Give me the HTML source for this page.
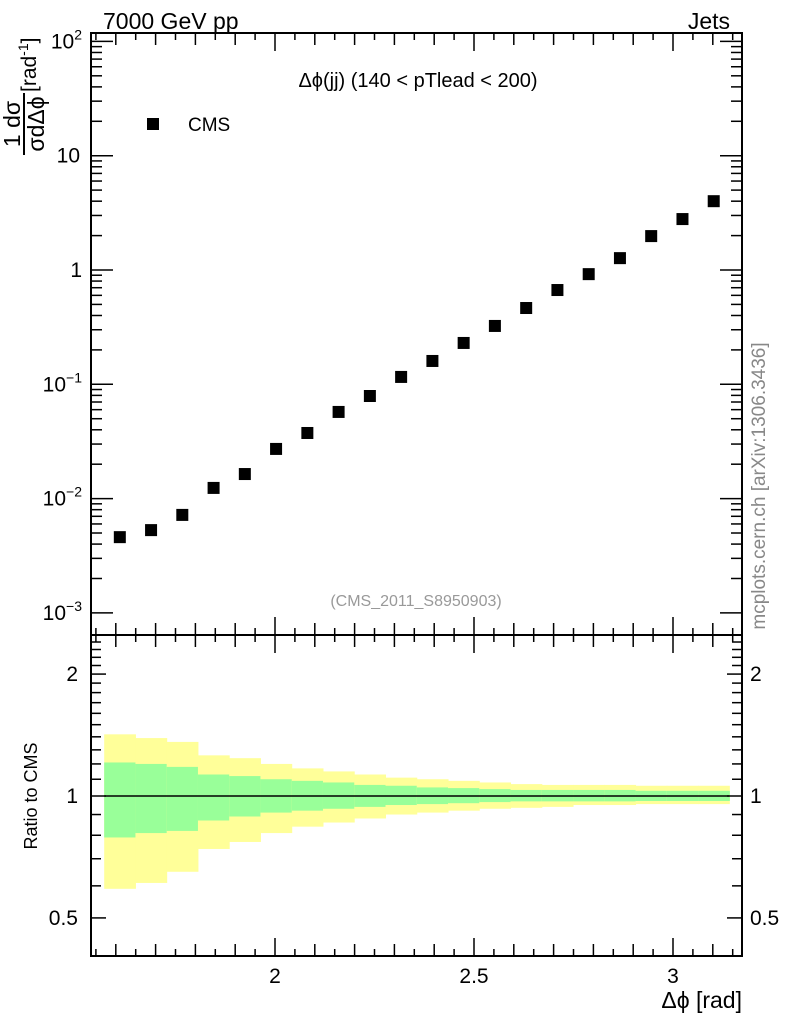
<!DOCTYPE html>
<html><head><meta charset="utf-8"><style>
body{margin:0;background:#fff;}
svg{display:block;font-family:"Liberation Sans",sans-serif;}
</style></head><body>
<svg id="c" width="786" height="1024" viewBox="0 0 786 1024">
<g id="bands"></g>
<g id="axes"></g>
<g id="marks"></g>
<text x="103" y="29" font-size="23">7000 GeV pp</text>
<text x="730" y="29" font-size="23" text-anchor="end">Jets</text>
<text x="418" y="87" font-size="20" text-anchor="middle">Δϕ(jj) (140 &lt; pTlead &lt;  200)</text>
<rect x="147" y="118" width="12" height="12" fill="#000"/>
<text x="188" y="131" font-size="19">CMS</text>
<text x="416" y="606" font-size="16" fill="#999" text-anchor="middle">(CMS_2011_S8950903)</text>
<text transform="translate(765,486) rotate(-90)" font-size="19" fill="#888" text-anchor="middle">mcplots.cern.ch [arXiv:1306.3436]</text>
<text transform="translate(37,796) rotate(-90)" font-size="18" text-anchor="middle">Ratio to CMS</text>
<text x="742" y="1008" font-size="23" text-anchor="end">Δϕ [rad]</text>
<g>
<text transform="translate(20,124) rotate(-90)" font-size="23" text-anchor="middle">1 dσ</text>
<line x1="24" y1="155" x2="24" y2="93" stroke="#000" stroke-width="2"/>
<text transform="translate(44,124) rotate(-90)" font-size="23" text-anchor="middle">σdΔϕ</text>
<text transform="translate(36,92) rotate(-90)" font-size="21">[rad<tspan font-size="14" dy="-8">-1</tspan><tspan dy="8">]</tspan></text>
</g>
</svg>
<script>
const xs=[1.6101,1.6886,1.7671,1.8457,1.9242,2.0027,2.0813,2.1598,2.2384,2.3169,2.3955,2.4740,2.5525,2.6311,2.7096,2.7882,2.8667,2.9452,3.0238,3.1023];
const values=[0.0046,0.0053,0.0072,0.0124,0.0164,0.0272,0.0375,0.0573,0.079,0.116,0.160,0.230,0.324,0.465,0.668,0.92,1.27,1.98,2.79,4.0];
const yellowHi=[1.42,1.39,1.36,1.26,1.24,1.20,1.17,1.15,1.13,1.11,1.10,1.09,1.08,1.07,1.065,1.065,1.065,1.06,1.06,1.06];
const greenHi=[1.21,1.20,1.18,1.13,1.12,1.10,1.09,1.08,1.065,1.06,1.05,1.046,1.04,1.035,1.035,1.035,1.035,1.03,1.03,1.03];
const greenLo=[0.79,0.81,0.82,0.87,0.89,0.91,0.92,0.93,0.94,0.95,0.955,0.96,0.966,0.97,0.97,0.97,0.97,0.972,0.972,0.972];
const yellowLo=[0.59,0.61,0.65,0.74,0.77,0.81,0.84,0.86,0.88,0.90,0.91,0.92,0.93,0.935,0.94,0.95,0.95,0.955,0.955,0.955];
const binW=Math.PI/40;
const NS='http://www.w3.org/2000/svg';
const L=91,R=742,T=33,M=635,B=956;
const X=v=>275+(v-2)*398;
const Y=v=>270-Math.log10(v)*114.3;
const YR=v=>796-Math.log10(v)*405;
function mk(tag,attrs,parent){const e=document.createElementNS(NS,tag);for(const k in attrs)e.setAttribute(k,attrs[k]);parent.appendChild(e);return e;}
const bands=document.getElementById('bands'),axes=document.getElementById('axes'),marks=document.getElementById('marks');
xs.forEach((x,i)=>{
  const x0=X(x-binW/2),x1=X(x+binW/2);
  const a=mk('rect',{x:x0,y:YR(yellowHi[i]),width:x1-x0+0.5,height:YR(yellowLo[i])-YR(yellowHi[i]),fill:'#ffff99'},bands);
  
  
  const g=mk('rect',{x:x0,y:YR(greenHi[i]),width:x1-x0+0.5,height:YR(greenLo[i])-YR(greenHi[i]),fill:'#99ff99'},bands);
  
  
  const p=mk('rect',{x:X(x)-6,y:Y(values[i])-6,width:12,height:12,fill:'#000'},marks);
  
  
});
mk('line',{x1:X(xs[0]-binW/2),x2:X(xs[19]+binW/2),y1:YR(1),y2:YR(1),stroke:'#000','stroke-width':1.5},bands);
const sw={stroke:'#000','stroke-width':2};
mk('rect',{x:L,y:T,width:R-L,height:M-T,fill:'none',...sw},axes);
mk('rect',{x:L,y:M,width:R-L,height:B-M,fill:'none',...sw},axes);
const ln=(x1,y1,x2,y2)=>mk('line',{x1,y1,x2,y2,stroke:'#000','stroke-width':1.5},axes);
const txt=(x,y,s,anchor,size)=>{const t=mk('text',{x,y,'font-size':size||21,'text-anchor':anchor||'middle'},axes);t.textContent=s;return t;};
for(let k=0;k<=40;k++){const v=1.5+k*0.05;const x=X(v);if(x<L+1||x>R-1)continue;
  const maj=Math.abs(v*2-Math.round(v*2))<1e-6, med=Math.abs(v*10-Math.round(v*10))<1e-6;
  const len=maj?18:med?12:7;
  [T,M,B].forEach(y=>{if(y!==T)ln(x,y,x,y-len);if(y!==B)ln(x,y,x,y+len);});
  if(maj&&v>1.9)txt(x,983,String(v));}
for(let d=-3;d<=2;d++){for(let m=1;m<=9;m++){const v=m*Math.pow(10,d);const y=Y(v);if(y<T||y>M)continue;
  const len=m===1?22:11;ln(L,y,L+len,y);ln(R,y,R-len,y);}}
[[2,'10','2'],[1,'10',''],[0,'1',''],[-1,'10','−1'],[-2,'10','−2'],[-3,'10','−3']].forEach(([d,b,e])=>{
  const t=txt(d===1?80:e?72:82,Y(Math.pow(10,d))+7,b,'end');
  if(e){const s=mk('tspan',{'font-size':14,dy:-9},t);s.textContent=e;t.setAttribute('x',82);t.setAttribute('text-anchor','end');}});
for(let k=4;k<=25;k++){const v=k/10;const y=YR(v);if(y<M+1||y>B-1)continue;
  const maj=(k===5||k===10||k===20);const len=maj?15:10;ln(L,y,L+len,y);ln(R,y,R-len,y);}
[[0.5,'0.5'],[1,'1'],[2,'2']].forEach(([v,s])=>{txt(78,YR(v)+7,s,'end');txt(750,YR(v)+7,s,'start');});
</script>
</body></html>
